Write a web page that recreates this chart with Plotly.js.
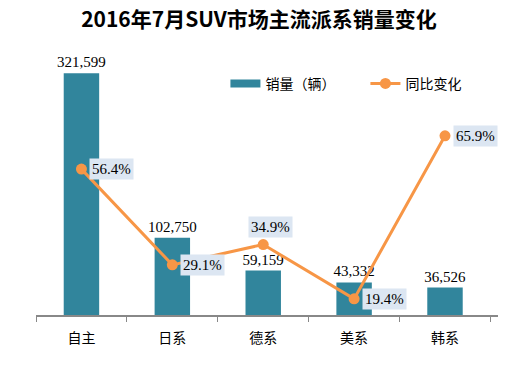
<!DOCTYPE html>
<html>
<head>
<meta charset="utf-8">
<script src="https://cdn.plot.ly/plotly-3.0.1.min.js"></script>
<style>html,body{margin:0;padding:0;background:#fff;}#chart{width:518px;height:386px;}</style>
</head>
<body>
<div id="chart"></div>
<script>
const categories = ['自主', '日系', '德系', '美系', '韩系'];
const sales = [321599, 102750, 59159, 43332, 36526];
const yoy = [56.4, 29.1, 34.9, 19.4, 65.9];
const salesName = '销量（辆）';
const yoyName = '同比变化';
const titleText = '2016年7月SUV市场主流派系销量变化';

const serif = 'Liberation Serif, Times New Roman, serif';
const cjk = 'Noto Sans CJK SC, sans-serif';
const barColor = '#31859C';
const lineColor = '#F79646';

const barTrace = {
  type: 'bar', x: categories, y: sales, name: salesName, showlegend: false,
  marker: {color: barColor}, width: 0.39,
  text: sales.map(v => v.toLocaleString('en-US')),
  textposition: 'outside', cliponaxis: false, constraintext: 'none',
  textfont: {family: serif, size: 15, color: '#000'},
  hoverinfo: 'none'
};
// legend entry for the bars (wide swatch like the original)
const barLegend = {
  type: 'scatter', mode: 'lines', x: [null], y: [null], name: salesName,
  line: {color: barColor, width: 8}, hoverinfo: 'none'
};
const lineTrace = {
  type: 'scatter', mode: 'lines+markers', x: categories, y: yoy, yaxis: 'y2',
  name: yoyName,
  line: {color: lineColor, width: 3},
  marker: {color: lineColor, size: 11},
  hoverinfo: 'none'
};

const annotations = categories.map((c, i) => ({
  x: c, y: yoy[i], yref: 'y2', xref: 'x',
  text: yoy[i].toFixed(1) + '%',
  showarrow: false, xanchor: 'left', yanchor: 'middle',
  xshift: i === 2 ? -15 : 8, yshift: i === 2 ? 18 : 0,
  bgcolor: '#DCE6F2', borderpad: 2,
  font: {family: serif, size: 15, color: '#000'}
}));

const layout = {
  width: 518, height: 386,
  margin: {l: 36, r: 20, t: 52, b: 71},
  paper_bgcolor: '#fff', plot_bgcolor: '#fff',
  title: {text: '<b>' + titleText + '</b>', x: 0.5, xanchor: 'center', y: 0.95, yanchor: 'middle',
    font: {family: cjk, size: 21, color: '#000'}},
  xaxis: {
    showline: true, linecolor: '#888', linewidth: 1.5,
    ticks: 'outside', tickson: 'boundaries', ticklen: 5, tickcolor: '#888',
    ticklabelstandoff: 10,
    tickfont: {family: cjk, size: 14, color: '#000'},
    showgrid: false, zeroline: false
  },
  yaxis: {range: [0, 350000], visible: false, showgrid: false, zeroline: false},
  yaxis2: {range: [14.8, 89.8], overlaying: 'y', side: 'right', visible: false, showgrid: false, zeroline: false},
  showlegend: true,
  legend: {orientation: 'h', x: 0.41, xanchor: 'left', y: 0.94, yanchor: 'top',
    font: {family: cjk, size: 14, color: '#000'}, tracegroupgap: 0, entrywidth: 95,
    bgcolor: 'rgba(0,0,0,0)'},
  bargap: 0.61,
  annotations: annotations
};

Plotly.newPlot('chart', [barTrace, barLegend, lineTrace], layout, {displayModeBar: false, staticPlot: true});
</script>
</body>
</html>
